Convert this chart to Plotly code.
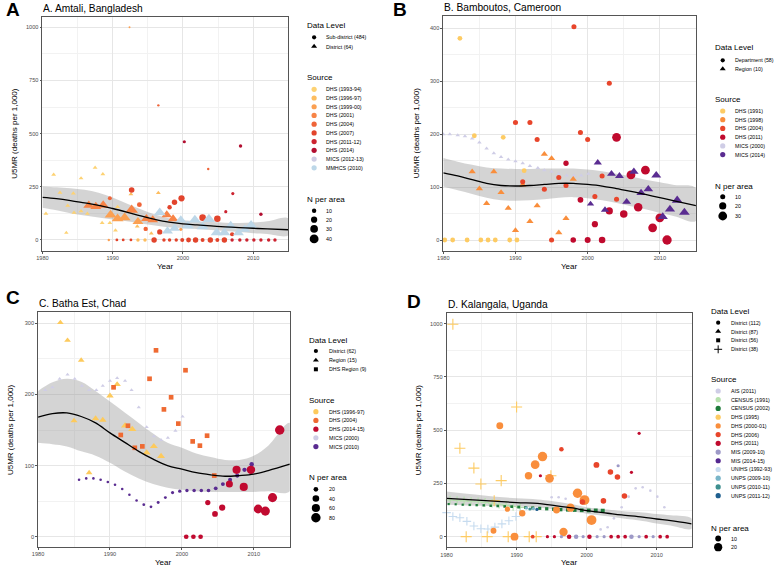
import math
import plotly.graph_objects as go

W, H = 778, 566
FONT = "Liberation Sans, Arial, Helvetica, sans-serif"

# ======================= PANEL A : Amtali, Bangladesh =======================
A_title = "A. Amtali, Bangladesh"
A_levels = ["Sub-district (484)", "District (64)"]
A_level_shapes = ["circle", "triangle"]
A_sources = ["DHS (1993-94)", "DHS (1996-97)", "DHS (1999-00)", "DHS (2001)", "DHS (2004)",
             "DHS (2007)", "DHS (2011-12)", "DHS (2014)", "MICS (2012-13)", "MMHCS (2010)"]
A_colors = ["#FDD273", "#FDBD5F", "#FBA052", "#F78447", "#EF6438",
            "#E2442C", "#CC2330", "#B20E30", "#CECCE3", "#BDD7E8"]
A_nlegend = [10, 20, 30, 40]

a1_year = [1980.5, 1981.6, 1982.5, 1983.6, 1983.4, 1984.4, 1984.5, 1985.5, 1985.5, 1986.4, 1987.5, 1988.6, 1988.5, 1989.6, 1990.4, 1990.7]
a1_u5mr = [124, 307, 222, 161, 34, 219, 128, 290, 135, 124, 340, 309, 80, 80, 45, 155]
a1_n = [6, 6, 6, 6, 5, 6, 6, 6, 6, 6, 6, 6, 6, 6, 6, 6]
a2_year = [1992.6, 1993.5, 1995.5, 1996.5]
a2_u5mr = [215, 64, 31, 221]
a2_n = [6, 6, 6, 6]
a3_year = [1993.6, 1994.6]
a3_u5mr = [0, 0]
a3_n = [6, 6]
a4_year = [1992.4, 1989.45, 1999.7]
a4_u5mr = [1000, 0, 50]
a4_n = [2, 3, 5]
a5_year = [1989.7, 1990.7, 1991.7, 1993.6]
a5_u5mr = [118, 100, 105, 86]
a5_n = [35, 35, 35, 30]
a6_year = [1986.6, 1987.6, 1988.65, 1992.7, 1994.8, 1995.7, 1997.7, 1998.6]
a6_u5mr = [163, 157, 163, 141, 100, 94, 118, 99]
a6_n = [30, 30, 32, 40, 28, 28, 28, 28]
a7_year = [1996.5, 2003.6, 1989.6, 1993.8, 1994.7]
a7_u5mr = [633, 334, 196, 166, 52]
a7_n = [3, 3, 8, 12, 10]
a8_year = [1992.7, 1998.1, 1998.8, 1999.8, 2002.8, 2004.9, 1996.7, 2007.0, 1990.6, 1991.5, 1992.6,
           1995.9, 1997.3, 1998.1, 1999.05, 1999.9, 2000.8, 2001.8, 2002.8, 2003.9, 2004.9, 2005.9]
a8_u5mr = [235, 154, 177, 196, 105, 100, 38, 27, 0, 0, 0, 0, 0, 0, 0, 0, 0, 0, 0, 0, 0, 0]
a8_n = [16, 10, 15, 20, 22, 22, 14, 9, 4, 4, 4, 15, 6, 6, 6, 8, 12, 15, 8, 15, 8, 15]
a9_year = [2006.1, 2007.1, 2007.0, 2008.1, 2009.1, 2010.1, 2011.1, 2012.2, 2013.1]
a9_u5mr = [133, 218, 0, 0, 0, 0, 0, 0, 0]
a9_n = [5, 5, 6, 6, 6, 6, 6, 6, 6]
a10_year = [2000.2, 2008.2, 2011.1]
a10_u5mr = [462, 442, 121]
a10_n = [5, 6, 6]
a11_year = [1996.7, 1997.8, 1998.8, 1999.7, 2000.7, 2001.7, 2002.8, 2003.7, 2004.8, 2005.9, 2006.8, 2007.9, 2008.8, 2009.7]
a11_u5mr = [128, 42, 55, 94, 66, 94, 63, 97, 34, 34, 66, 34, 50, 70]
a11_n = [35, 30, 30, 30, 35, 35, 35, 40, 35, 35, 35, 30, 30, 35]

A_fit_year = [1980, 1982, 1984, 1986, 1988, 1990, 1992, 1994, 1996, 1998, 2000, 2002, 2004, 2006, 2008, 2010, 2012, 2015]
A_fit = [200, 194, 185, 174, 163, 148, 131, 113, 97, 84, 76, 71, 66, 62, 58, 55, 52, 48]
A_fit_hi = [252, 248, 243, 236, 222, 200, 172, 145, 120, 102, 93, 88, 84, 81, 80, 82, 88, 102]
A_fit_lo = [152, 140, 126, 115, 106, 96, 88, 78, 68, 60, 56, 52, 47, 42, 37, 32, 28, 22]

# ======================= PANEL B : Bamboutos, Cameroon =======================
B_title = "B. Bamboutos, Cameroon"
B_levels = ["Department (58)", "Region (10)"]
B_level_shapes = ["circle", "triangle"]
B_sources = ["DHS (1991)", "DHS (1998)", "DHS (2004)", "DHS (2011)", "MICS (2000)", "MICS (2014)"]
B_colors = ["#FDCB63", "#F98E3C", "#E8452B", "#C00A2E", "#CFCDE6", "#5A2C91"]
B_nlegend = [10, 20, 30]

b1_year = [1980.2, 1981.3, 1983.3, 1985.2, 1986.2, 1987.2, 1989.2, 1990.2, 1982.3, 1984.3, 1988.3, 1991.2]
b1_u5mr = [0, 0, 0, 0, 0, 0, 0, 0, 381, 197, 194, 131]
b1_n = [9, 9, 9, 9, 9, 9, 9, 9, 9, 9, 9, 9]
b2_year = [1984, 1985, 1986, 1987, 1988, 1989, 1990, 1991, 1992, 1993, 1994, 1995, 1996, 1997, 1998]
b2_u5mr = [129, 97, 69, 129, 90, 60, 18, 104, 35, 65, 162, 154, 14, 41, 115]
b2_n = [10, 10, 10, 10, 10, 10, 10, 10, 10, 10, 10, 10, 10, 10, 10]
b3_year = [1990, 1992, 1993, 1991, 1994, 1995, 1996, 1997, 1998.1, 1999, 2000, 2001, 2002, 2003, 2004]
b3_u5mr = [222, 222, 190, 110, 96, 0, 118, 103, 403, 203, 190, 82, 121, 296, 77]
b3_n = [10, 10, 10, 10, 10, 10, 10, 10, 10, 10, 10, 10, 10, 10, 10]
b4_year = [1997, 1998, 1999, 2000, 2001, 2002, 2003, 2004, 2005, 2006, 2007, 2008, 2009, 2010, 2011]
b4_u5mr = [145, 0, 76, 0, 30, 0, 55, 194, 49, 123, 62, 132, 23, 42, 0]
b4_n = [11, 12, 13, 14, 15, 17, 20, 30, 22, 30, 28, 30, 30, 30, 34]
b5_year = [1980.0, 1980.9, 1982.0, 1983.0, 1984.0, 1985.0, 1986.0, 1987.0, 1988.0, 1989.0, 1990.0,
           1991.0, 1992.0, 1993.1, 1994.0, 1995.0, 1996.0, 1997.1, 1998.1, 1999.1, 2000.1]
b5_u5mr = [200, 200, 198, 196, 192, 184, 173, 164, 157, 152, 149, 145, 140, 136, 132, 129, 125, 122, 122, 122, 125]
b5_n = [4, 4, 4, 4, 4, 4, 4, 4, 4, 4, 4, 4, 4, 4, 4, 4, 4, 4, 4, 4, 4]
b6_year = [2000.4, 2001.4, 2002.4, 2003.3, 2004.4, 2005.4, 2006.4, 2007.4, 2008.4, 2009.5, 2010.4, 2011.4, 2012.4, 2013.4]
b6_u5mr = [68, 146, 57, 125, 121, 72, 129, 89, 96, 122, 44, 58, 75, 52]
b6_n = [10, 13, 13, 15, 15, 15, 17, 17, 18, 19, 20, 20, 22, 22]

B_fit_year = [1980, 1982, 1984, 1986, 1988, 1990, 1992, 1994, 1996, 1998, 2000, 2002, 2004, 2006, 2008, 2010, 2012, 2015]
B_fit = [127, 121, 114, 107, 103, 102, 103, 105, 107, 107, 105, 102, 97, 92, 86, 80, 74, 65]
B_fit_hi = [155, 148, 142, 137, 135, 134, 134, 135, 135, 135, 133, 130, 125, 120, 114, 109, 104, 98]
B_fit_lo = [101, 94, 87, 80, 75, 74, 75, 77, 80, 81, 79, 75, 70, 64, 58, 51, 45, 36]

# ======================= PANEL C : Batha Est, Chad =======================
C_title = "C. Batha Est, Chad"
C_levels = ["District (62)", "Region (15)", "DHS Region (9)"]
C_level_shapes = ["circle", "triangle", "square"]
C_sources = ["DHS (1996-97)", "DHS (2004)", "DHS (2014-15)", "MICS (2000)", "MICS (2010)"]
C_colors = ["#FDCA5C", "#EF6A32", "#C10A30", "#CFCDE6", "#5A2C91"]
C_nlegend = [20, 40, 60, 80]

c1_year = [1983.1, 1984.1, 1986.0, 1985.0, 1987.1, 1988.0, 1989.0, 1990.0, 1991.0, 1992.1, 1993.1, 1995.1, 1996.1, 1997.1]
c1_u5mr = [301, 276, 248, 163, 90, 166, 164, 198, 214, 156, 151, 118, 127, 113]
c1_n = [20, 20, 20, 22, 20, 25, 25, 25, 25, 30, 30, 28, 28, 28]
c2_year = [1981.0, 1982.0, 1983.0, 1984.1, 1985.1, 1986.1, 1987.1, 1988.1, 1989.0, 1990.0,
           1991.0, 1992.1, 1993.0, 1994.0, 1995.1, 1996.1, 1997.1, 1998.05, 1999.1, 2000.1]
c2_u5mr = [206, 210, 222, 228, 222, 212, 206, 206, 212, 219, 223, 219, 206, 182, 154, 141, 136, 139, 149, 169]
c2_n = [8, 8, 8, 8, 8, 8, 8, 8, 8, 8, 8, 8, 8, 8, 8, 8, 8, 8, 8, 8]
c3_year = [1990.5, 1991.5, 1992.5, 1993.45, 1994.5, 1995.5, 1996.4, 1997.5, 1998.5, 1999.5, 2000.5, 2001.5, 2002.5, 2003.5, 2004.5]
c3_u5mr = [210, 143, 156, 125, 127, 222, 262, 179, 196, 159, 234, 134, 128, 142, 86]
c3_n = [22, 22, 22, 22, 22, 22, 22, 22, 22, 22, 22, 22, 22, 22, 22]
c4_year = [1985.7, 1986.7, 1987.7, 1988.7, 1989.7, 1990.7, 1991.7, 1992.7, 1993.7, 1994.7, 1995.7, 1996.7, 1997.7,
           1998.7, 1999.7, 2000.7, 2001.7, 2002.7, 2003.7, 2004.7, 2005.7, 2006.7, 2007.7, 2008.7, 2009.7]
c4_u5mr = [80, 82, 82, 80, 77, 73, 67, 59, 51, 45, 42, 48, 55, 62, 64, 65, 65, 65, 65, 68, 74, 80, 86, 94, 102]
c4_n = [6, 6, 6, 6, 6, 6, 6, 6, 6, 7, 7, 8, 8, 9, 10, 10, 11, 11, 12, 13, 14, 15, 16, 17, 18]
c5_year = [2000.6, 2001.6, 2002.6, 2003.6, 2004.6, 2005.6, 2006.6, 2007.6, 2008.6, 2009.6, 2010.6, 2011.6, 2012.6, 2013.6]
c5_u5mr = [0, 0, 0, 48, 32, 41, 74, 94, 70, 94, 39, 36, 55, 150]
c5_n = [20, 20, 20, 25, 30, 35, 45, 60, 60, 65, 70, 75, 75, 80]

C_fit_year = [1980, 1982, 1984, 1986, 1988, 1990, 1992, 1994, 1996, 1998, 2000, 2002, 2004, 2006, 2008, 2010, 2012, 2015]
C_fit = [168, 173, 174, 169, 160, 146, 133, 120, 109, 100, 95, 90, 87, 85, 86, 88, 93, 102]
C_fit_hi = [205, 217, 222, 218, 205, 190, 175, 160, 145, 132, 125, 117, 112, 108, 108, 114, 128, 160]
C_fit_lo = [132, 130, 127, 120, 114, 104, 92, 82, 74, 69, 66, 64, 63, 63, 63, 63, 64, 64]

# ======================= PANEL D : Kalangala, Uganda =======================
D_title = "D. Kalangala, Uganda"
D_levels = ["District (112)", "District (87)", "District (56)", "District (38)"]
D_level_shapes = ["circle", "triangle", "square", "plus"]
D_sources = ["AIS (2011)", "CENSUS (1991)", "CENSUS (2002)", "DHS (1995)", "DHS (2000-01)", "DHS (2006)",
             "DHS (2011)", "MIS (2009-10)", "MIS (2014-15)", "UNIHS (1992-93)", "UNPS (2009-10)",
             "UNPS (2010-11)", "UNPS (2011-12)"]
D_colors = ["#CFCDE6", "#B5E0AC", "#1E7B3A", "#FDCB63", "#F98E3C", "#E8452B", "#C00A2E",
            "#9D99C7", "#54278F", "#C6DBEF", "#79B5C8", "#3D8F8F", "#1F5F8F"]
D_nlegend = [10, 20]

d1_year = [1995.0, 1996.0, 1997.0, 2002.0, 2003.0, 2003.9, 2005.0, 2006.0, 2007.0, 2008.0, 2009.1, 2010.1, 2011.1]
d1_u5mr = [185, 185, 178, 34, 44, 86, 138, 188, 227, 232, 216, 188, 138]
d1_n = [2, 2, 2, 2, 2, 2, 2, 2, 2, 2, 2, 2, 2]
d2_year = [1980.5, 1981.5, 1982.5, 1983.5, 1984.5, 1985.5, 1986.5, 1987.5, 1988.5, 1989.5, 1990.5]
d2_u5mr = [172, 170, 168, 166, 164, 161, 157, 152, 147, 142, 137]
d2_n = [6, 6, 6, 6, 6, 6, 6, 6, 6, 6, 6]
d3_year = [1980.3, 1981.3, 1982.3, 1983.3, 1984.3, 1985.3, 1986.3, 1987.3, 1988.3, 1989.3, 1990.3, 1991.3,
           1992.3, 1993.3, 1994.3, 1995.3, 1996.3, 1997.3, 1998.3, 1999.3, 2000.3, 2001.3, 2002.3]
d3_u5mr = [153, 152, 150, 149, 148, 147, 145, 144, 142, 141, 139, 137, 135, 133, 131, 129, 127, 126, 125, 124, 123, 123, 122]
d3_n = [1.5, 1.5, 1.6, 1.7, 1.8, 1.9, 2, 2.1, 2.2, 2.4, 2.6, 2.8, 3, 3.2, 3.4, 3.6, 3.8, 4, 4.2, 4.4, 4.6, 4.8, 5]
d4_year = [1980.9, 1981.9, 1983.9, 1984.9, 1986.8, 1987.8, 1990.0, 1994.9, 1982.8, 1985.8, 1988.8, 1991.8, 1992.8]
d4_u5mr = [997, 415, 322, 247, 169, 263, 609, 286, 0, 0, 0, 0, 0]
d4_n = [10, 10, 10, 10, 10, 10, 10, 10, 10, 10, 10, 10, 10]
d5_year = [1987.6, 1991.7, 1992.65, 1993.7, 1994.7, 1988.7, 1990.8, 1986.7, 1989.7, 1995.7, 1996.7, 1997.7, 1998.7, 1999.7, 2000.7]
d5_u5mr = [521, 286, 338, 376, 274, 129, 110, 28, 0, 125, 22, 136, 204, 172, 78]
d5_n = [14, 16, 22, 26, 22, 8, 12, 10, 18, 14, 20, 20, 26, 28, 28]
d6_year = [1996.4, 2001.4, 2003.4, 2004.4, 2002.4, 2005.4, 1999.4, 1992.3]
d6_u5mr = [410, 337, 304, 280, 168, 191, 163, 0]
d6_n = [6, 10, 9, 9, 9, 9, 9, 4]
d7_year = [2007.5, 1993.4, 2006.4, 1994.4, 1995.4, 1997.5, 2000.4, 2003.5, 2004.5, 2005.5, 2008.5, 2010.5, 2011.5]
d7_u5mr = [485, 286, 302, 0, 0, 0, 0, 0, 0, 0, 0, 0, 0]
d7_n = [3, 3, 3, 3, 3, 6, 6, 4, 4, 4, 4, 4, 4]
d8_year = [2004.5, 1996.4, 1998.5, 1999.5, 2001.5, 2002.5, 2006.4, 2007.5, 2009.5]
d8_u5mr = [333, 0, 0, 0, 0, 0, 0, 0, 0]
d8_n = [3, 3, 6, 3, 3, 3, 6, 3, 3]
d10_year = [1980.0, 1980.9, 1981.9, 1982.9, 1983.9, 1984.9, 1985.9, 1986.9, 1987.9, 1988.9, 1989.9]
d10_u5mr = [113, 95, 89, 72, 50, 37, 36, 45, 60, 75, 95]
d10_n = [6, 6, 6, 6, 6, 6, 6, 6, 6, 6, 6]
d11_year = [1991.4, 1992.4]
d11_u5mr = [135, 132]
d11_n = [3, 3]
d12_year = [1991.9]
d12_u5mr = [130]
d12_n = [3]
d13_year = [1992.9]
d13_u5mr = [128]
d13_n = [3]

D_fit_year = [1980, 1985, 1990, 1993, 1995, 1998, 2000, 2003, 2005, 2008, 2010, 2012, 2015]
D_fit = [180, 170, 160, 156, 148, 135, 122, 110, 102, 92, 83, 75, 60]
D_fit_hi = [212, 195, 180, 175, 168, 152, 138, 127, 120, 113, 106, 100, 85]
D_fit_lo = [150, 145, 140, 137, 130, 118, 108, 96, 86, 74, 62, 52, 37]

# ============================ figure construction ============================
SYM = {"circle": "circle", "triangle": "triangle-up", "square": "square", "plus": "cross-thin"}
SCALE = {"circle": 1.0, "triangle": 1.25, "square": 0.95, "plus": 1.35}

fig = go.Figure()

# panel frames in pixels: left, top, right, bottom ; y range
PANELS = [
    dict(key="A", ax="", frame=(36.7, 16.7, 284.5, 250.6), yr=(-50, 1050), dy=250, k=1.4),
    dict(key="B", ax="2", frame=(440.7, 16.1, 695.3, 250.6), yr=(-20, 423), dy=100, k=1.6),
    dict(key="C", ax="3", frame=(32.3, 311.9, 286.0, 546.7), yr=(-14, 316), dy=100, k=1.05),
    dict(key="D", ax="4", frame=(444.0, 313.0, 691.0, 546.9), yr=(-48, 1050), dy=250, k=1.85),
]


def add_fit(ax, yrs, fit, hi, lo):
    fig.add_trace(go.Scatter(x=yrs + yrs[::-1], y=hi + lo[::-1], fill="toself",
                             fillcolor="rgba(153,153,153,0.42)", line=dict(width=0),
                             mode="lines", xaxis="x" + ax, yaxis="y" + ax, hoverinfo="skip",
                             line_shape="spline"))


def add_line(ax, yrs, fit):
    fig.add_trace(go.Scatter(x=yrs, y=fit, mode="lines", line=dict(color="black", width=1.3, shape="spline"),
                             xaxis="x" + ax, yaxis="y" + ax, hoverinfo="skip"))


def add_pts(ax, k, color, shape, years, vals, ns):
    sizes = [k * math.sqrt(n) * SCALE[shape] for n in ns]
    is_plus = shape == "plus"
    fig.add_trace(go.Scatter(
        x=years, y=vals, mode="markers", xaxis="x" + ax, yaxis="y" + ax, hoverinfo="skip",
        cliponaxis=False,
        marker=dict(color=color, symbol=SYM[shape], size=sizes, opacity=1,
                    line=dict(width=1.1 if is_plus else 0, color=color))))


# Panel A
add_fit("", A_fit_year, A_fit, A_fit_hi, A_fit_lo)
for si, shp, yy, vv, nn in [(0, "triangle", a1_year, a1_u5mr, a1_n), (1, "triangle", a2_year, a2_u5mr, a2_n),
                            (1, "circle", a3_year, a3_u5mr, a3_n), (2, "circle", a4_year, a4_u5mr, a4_n),
                            (2, "triangle", a5_year, a5_u5mr, a5_n), (3, "triangle", a6_year, a6_u5mr, a6_n),
                            (4, "circle", a7_year, a7_u5mr, a7_n), (5, "circle", a8_year, a8_u5mr, a8_n),
                            (6, "circle", a9_year, a9_u5mr, a9_n), (7, "circle", a10_year, a10_u5mr, a10_n),
                            (9, "triangle", a11_year, a11_u5mr, a11_n)]:
    add_pts("", 1.4, A_colors[si], shp, yy, vv, nn)
add_line("", A_fit_year, A_fit)

# Panel B
add_fit("2", B_fit_year, B_fit, B_fit_hi, B_fit_lo)
for si, shp, yy, vv, nn in [(4, "triangle", b5_year, b5_u5mr, b5_n), (0, "circle", b1_year, b1_u5mr, b1_n),
                            (1, "triangle", b2_year, b2_u5mr, b2_n), (2, "circle", b3_year, b3_u5mr, b3_n),
                            (3, "circle", b4_year, b4_u5mr, b4_n), (5, "triangle", b6_year, b6_u5mr, b6_n)]:
    add_pts("2", 1.6, B_colors[si], shp, yy, vv, nn)
add_line("2", B_fit_year, B_fit)

# Panel C
add_fit("3", C_fit_year, C_fit, C_fit_hi, C_fit_lo)
for si, shp, yy, vv, nn in [(3, "triangle", c2_year, c2_u5mr, c2_n), (0, "triangle", c1_year, c1_u5mr, c1_n),
                            (1, "square", c3_year, c3_u5mr, c3_n), (4, "circle", c4_year, c4_u5mr, c4_n),
                            (2, "circle", c5_year, c5_u5mr, c5_n)]:
    add_pts("3", 1.05, C_colors[si], shp, yy, vv, nn)
add_line("3", C_fit_year, C_fit)

# Panel D
add_fit("4", D_fit_year, D_fit, D_fit_hi, D_fit_lo)
for si, shp, yy, vv, nn in [(9, "plus", d10_year, d10_u5mr, d10_n), (1, "plus", d2_year, d2_u5mr, d2_n),
                            (2, "square", d3_year, d3_u5mr, d3_n), (0, "circle", d1_year, d1_u5mr, d1_n),
                            (3, "plus", d4_year, d4_u5mr, d4_n), (4, "circle", d5_year, d5_u5mr, d5_n),
                            (5, "circle", d6_year, d6_u5mr, d6_n), (6, "circle", d7_year, d7_u5mr, d7_n),
                            (7, "circle", d8_year, d8_u5mr, d8_n), (10, "circle", d11_year, d11_u5mr, d11_n),
                            (11, "circle", d12_year, d12_u5mr, d12_n), (12, "circle", d13_year, d13_u5mr, d13_n)]:
    add_pts("4", 1.85, D_colors[si], shp, yy, vv, nn)
add_line("4", D_fit_year, D_fit)

# axes
layout = dict(width=W, height=H, margin=dict(l=0, r=0, t=0, b=0), autosize=False,
              paper_bgcolor="white", plot_bgcolor="rgba(0,0,0,0)", showlegend=False)
for p in PANELS:
    l, t, r, b = p["frame"]
    ax = p["ax"]
    common = dict(showline=True, mirror=True, linecolor="#555555", linewidth=0.8,
                  ticks="outside", ticklen=2, tickwidth=0.6, tickcolor="#555555",
                  tickfont=dict(family=FONT, size=5.6, color="#4D4D4D"),
                  showgrid=True, gridcolor="#E6E6E6", gridwidth=0.7, zeroline=False, fixedrange=True)
    layout["xaxis" + ax] = dict(domain=[l / W, r / W], range=[1980, 2015], tick0=1980, dtick=10,
                                minor=dict(dtick=5, tick0=1980, showgrid=True, gridcolor="#F2F2F2", gridwidth=0.5),
                                anchor="y" + ax, **common)
    layout["yaxis" + ax] = dict(domain=[1 - b / H, 1 - t / H], range=list(p["yr"]), tick0=0, dtick=p["dy"],
                                minor=dict(dtick=p["dy"] / 2, tick0=0, showgrid=True, gridcolor="#F2F2F2", gridwidth=0.5),
                                anchor="x" + ax, **common)
# overlay axis in pixel units for the legends
layout["xaxis5"] = dict(domain=[0, 1], range=[0, W], visible=False, fixedrange=True, anchor="y5")
layout["yaxis5"] = dict(domain=[0, 1], range=[H, 0], visible=False, fixedrange=True, anchor="x5")
fig.update_layout(**layout)


def txt(x, y, s, size, angle=0, xanchor="left", color="black"):
    fig.add_annotation(x=x / W, y=1 - y / H, xref="paper", yref="paper", text=s, showarrow=False,
                       xanchor=xanchor, yanchor="middle", textangle=angle, borderpad=0,
                       font=dict(family=FONT, size=size, color=color))


def mark(xs, ys, colors, symbols, sizes):
    fig.add_trace(go.Scatter(x=xs, y=ys, mode="markers", xaxis="x5", yaxis="y5", hoverinfo="skip",
                             cliponaxis=False,
                             marker=dict(color=colors, symbol=[SYM[s] for s in symbols], size=sizes, opacity=1,
                                         line=dict(width=[1.0 if s == "plus" else 0 for s in symbols],
                                                   color=colors))))


def legend(xt, xm, xl, lv_ty, lv_ys, levels, shapes, src_ty, src_y0, sources, colors, n_ty, n_ys, nvals, k):
    txt(xt, lv_ty, "Data Level", 8)
    mark([xm] * len(levels), lv_ys, ["black"] * len(levels), shapes,
         [4.2 * SCALE[s] for s in shapes])
    for lab, y in zip(levels, lv_ys):
        txt(xl, y, lab, 5.3)
    txt(xt, src_ty, "Source", 8)
    sys_ = [src_y0 + i * 8.72 for i in range(len(sources))]
    mark([xm] * len(sources), sys_, colors, ["circle"] * len(sources), [5.2] * len(sources))
    for lab, y in zip(sources, sys_):
        txt(xl, y, lab, 5.3)
    txt(xt, n_ty, "N per area", 8)
    mark([xm] * len(nvals), n_ys, ["black"] * len(nvals), ["circle"] * len(nvals),
         [k * math.sqrt(v) for v in nvals])
    for v, y in zip(nvals, n_ys):
        txt(xl, y, str(v), 5.3)


legend(302.3, 310.5, 321.5, 26, [37.3, 46.5], A_levels, A_level_shapes, 77.7, 89.3, A_sources, A_colors,
       199.5, [210.7, 219.7, 228.9, 238.9], A_nlegend, 1.4)
legend(713.3, 722.3, 733.3, 47.3, [60.3, 69.0], B_levels, B_level_shapes, 99.3, 111.0, B_sources, B_colors,
       186.0, [196.7, 205.9, 216.0], B_nlegend, 1.6)
legend(304.0, 312.3, 324.0, 340.0, [351.0, 360.3, 369.3], C_levels, C_level_shapes, 400.0, 411.7, C_sources,
       C_colors, 477.7, [489.3, 498.5, 508.0, 517.7], C_nlegend, 1.05)
legend(709.5, 717.7, 729.3, 311.0, [322.7, 331.5, 340.3, 349.3], D_levels, D_level_shapes, 379.3, 391.0,
       D_sources, D_colors, 528.0, [538.5, 547.2], D_nlegend, 1.85)

# titles, panel letters, axis titles
for p, title in zip(PANELS, [A_title, B_title, C_title, D_title]):
    l, t, r, b = p["frame"]
    txt(l, t - 8.5, title, 10.2)
    txt((l + r) / 2, b + 15.5, "Year", 8, xanchor="center")
    txt(l - 27.5, (t + b) / 2, "U5MR (deaths per 1,000)", 8, angle=-90, xanchor="center")

txt(-1, 9.5, "<b>A</b>", 19)
txt(389, 9.5, "<b>B</b>", 19)
txt(-1, 297.5, "<b>C</b>", 19)
txt(403, 301.5, "<b>D</b>", 19)

fig.write_html("out.html", config={"displayModeBar": False},
               post_script="document.body.style.margin='0px';document.body.style.overflow='hidden';")
